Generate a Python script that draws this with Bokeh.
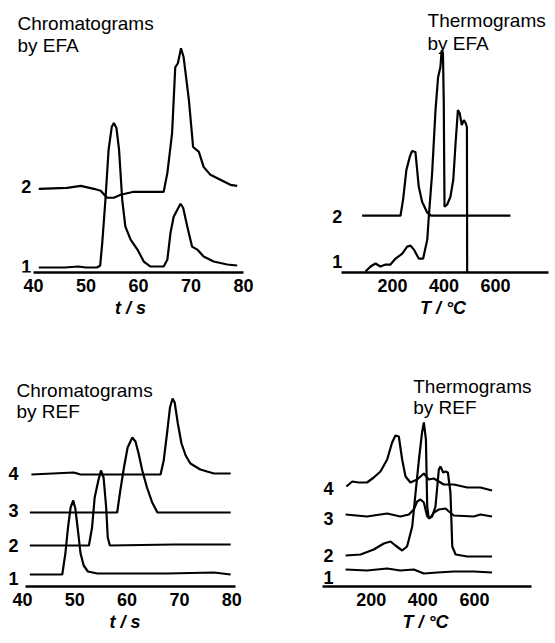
from bokeh.plotting import figure
from bokeh.layouts import column, row
from bokeh.models import FixedTicker, Label
from bokeh.embed import file_html
from bokeh.resources import INLINE

# ---------------- data ----------------
# Chromatograms by EFA  (t / s, intensity a.u.)
chrom_efa_1_t = [41.0, 46.0, 48.5, 50.0, 52.1, 52.7, 53.1, 53.7, 54.3, 54.9, 55.3, 55.8, 56.3, 56.9, 57.5,
                 58.5, 59.8, 61.0, 62.3, 64.8, 65.5, 66.1, 66.7, 67.4, 68.0, 68.5, 69.3, 70.2, 71.2, 72.4,
                 74.3, 76.9, 78.8]
chrom_efa_1_y = [5, 5, 6, 5, 5, 7, 30, 73, 123, 146, 150, 145, 123, 73, 46,
                 33, 23, 11, 6, 6, 13, 40, 56, 63, 69, 65, 46, 26, 23, 16,
                 11, 8, 7]
chrom_efa_2_t = [41.0, 46.4, 49.0, 51.5, 52.8, 54.0, 55.3, 56.6, 59.1, 64.8, 65.5, 66.4, 67.0, 67.5,
                 68.1, 68.6, 69.6, 70.4, 71.5, 72.4, 73.7, 75.6, 77.5, 78.8]
chrom_efa_2_y = [84, 85, 87, 84, 82, 75, 75, 78, 81, 81, 100, 140, 206, 210,
                 225, 216, 173, 126, 121, 106, 98, 93, 88, 87]

# Thermograms by EFA  (T / degC)
thermo_efa_1_T = [95, 115, 134, 153, 173, 192, 212, 238, 257, 270, 283, 302, 319, 335, 341, 354, 367,
                  377, 386, 391, 396, 399, 402, 412, 425, 436, 445, 454, 461, 469, 477, 484, 489, 490]
thermo_efa_1_y = [1, 6, 9, 6, 8, 8, 14, 19, 26, 27, 23, 14, 14, 33, 56, 100, 163,
                  196, 206, 223, 220, 173, 66, 68, 76, 93, 130, 163, 160, 148, 153, 150, 146, 0]
thermo_efa_2_T = [82, 231, 241, 254, 267, 276, 289, 302, 315, 335, 350, 658]
thermo_efa_2_y = [57, 57, 73, 103, 116, 122, 121, 86, 71, 60, 57, 57]

# Chromatograms by REF
chrom_ref_1_t = [41.4, 47.6, 48.2, 48.7, 49.2, 49.7, 50.1, 50.6, 51.1, 51.7, 52.5, 54.3, 67.7, 76.6, 79.8]
chrom_ref_1_y = [12, 12, 33, 59, 79, 86, 78, 56, 33, 21, 15, 13, 13, 14, 12]
chrom_ref_2_t = [41.4, 52.7, 53.3, 53.8, 54.5, 55.0, 55.5, 56.0, 56.3, 56.7, 68.9, 79.8]
chrom_ref_2_y = [41, 41, 59, 89, 106, 116, 109, 79, 49, 41, 42, 42]
chrom_ref_3_t = [41.4, 58.1, 58.7, 59.4, 60.1, 61.0, 61.6, 62.2, 62.9, 63.8, 64.8, 65.8, 79.8]
chrom_ref_3_y = [74, 74, 96, 119, 139, 149, 145, 133, 116, 99, 84, 74, 74]
chrom_ref_4_t = [41.7, 49.8, 51.1, 66.4, 67.0, 67.7, 68.2, 68.7, 69.1, 69.7, 70.4, 71.2, 72.1, 74.0, 76.6, 79.8]
chrom_ref_4_y = [112, 114, 112, 112, 126, 156, 179, 188, 184, 163, 143, 131, 123, 117, 113, 113]

# Thermograms by REF
thermo_ref_1_T = [101, 184, 262, 313, 365, 404, 456, 520, 597, 668]
thermo_ref_1_y = [17, 16, 18, 16, 17, 13, 14, 15, 15, 14]
thermo_ref_2_T = [101, 159, 210, 249, 275, 294, 320, 339, 359, 372, 385, 397, 404, 412, 417, 423, 436,
                  449, 462, 468, 479, 488, 497, 507, 514, 527, 572, 668]
thermo_ref_2_y = [31, 32, 37, 43, 45, 41, 36, 40, 60, 94, 127, 154, 164, 147, 80, 68, 70,
                  80, 117, 120, 114, 115, 114, 94, 40, 32, 30, 30]
thermo_ref_3_T = [101, 184, 262, 313, 346, 365, 378, 391, 404, 417, 430, 443, 462, 488, 501, 520, 597, 623, 668]
thermo_ref_3_y = [72, 70, 73, 70, 72, 77, 85, 87, 84, 70, 69, 74, 77, 78, 75, 71, 70, 72, 70]
thermo_ref_4_T = [104, 127, 152, 184, 210, 236, 262, 281, 294, 307, 320, 333, 352, 378, 404, 423, 443,
                  481, 520, 572, 623, 668]
thermo_ref_4_y = [100, 105, 104, 104, 109, 115, 127, 144, 151, 150, 127, 110, 104, 107, 113, 107, 108,
                  102, 102, 99, 99, 96]

chrom_ticks = [40, 50, 60, 70, 80]
thermo_ticks = [200, 400, 600]
chrom_label = "t / s"
thermo_label = "T / \u00b0C"
titles = [("Chromatograms", "by EFA"), ("Thermograms", "by EFA"),
          ("Chromatograms", "by REF"), ("Thermograms", "by REF")]

FONT = "Liberation Sans"


def panel(width, height, frame_h, left, right, x_range, bounds, ticks, xlabel):
    p = figure(width=width, height=height, x_range=x_range, y_range=(0, frame_h),
               output_backend="svg", toolbar_location=None, y_axis_location=None,
               min_border_left=left, min_border_right=right, min_border_top=0,
               min_border_bottom=height - frame_h)
    p.outline_line_color = None
    p.grid.visible = False
    ax = p.xaxis[0]
    ax.bounds = bounds
    ax.ticker = FixedTicker(ticks=ticks)
    ax.axis_line_width = 2.5
    ax.axis_line_color = "black"
    ax.major_tick_line_color = None
    ax.minor_tick_line_color = None
    ax.major_tick_out = 0
    ax.major_tick_in = 0
    ax.minor_tick_out = 0
    ax.minor_tick_in = 0
    ax.major_label_text_font = FONT
    ax.major_label_text_font_size = "18px"
    ax.major_label_text_font_style = "bold"
    ax.major_label_text_color = "black"
    ax.major_label_standoff = 6
    ax.axis_label = xlabel
    ax.axis_label_text_font = FONT
    ax.axis_label_text_font_size = "18px"
    ax.axis_label_text_font_style = "bold italic"
    ax.axis_label_text_color = "black"
    ax.axis_label_standoff = 3
    return p


def add_title(p, lines, x, y1, y2):
    for txt, yy in zip(lines, (y1, y2)):
        p.add_layout(Label(x=x, y=yy, text=txt, text_font=FONT, text_font_size="19px",
                           text_align="left", text_baseline="alphabetic", text_color="black"))


def add_series_labels(p, names, x, ys):
    for n, yy in zip(names, ys):
        p.add_layout(Label(x=x, y=yy, text=n, text_font=FONT, text_font_size="18px",
                           text_font_style="bold", text_align="center",
                           text_baseline="alphabetic", text_color="black"))


LW = 2.2

# top-left   (pixel map: t=40 -> 33 px, 5.25 px per s; frame 17..243)
p1 = panel(280, 320, 273, 17, 37, (40 - 16 / 5.25, 80), (40, 80), chrom_ticks, chrom_label)
p1.line(chrom_efa_1_t, chrom_efa_1_y, line_color="black", line_width=LW)
p1.line(chrom_efa_2_t, chrom_efa_2_y, line_color="black", line_width=LW)
add_title(p1, titles[0], 36.95, 250, 228)
add_series_labels(p1, ["1", "2"], 38.6, [6, 86])

# top-right  (T=0 -> 60.5 px, 0.2575 px per degC; frame 50..275)
p2 = panel(275, 320, 273, 50, 0, (-10.5 / 0.2575, (275 - 60.5) / 0.2575), (0, 805), thermo_ticks, thermo_label)
p2.line(thermo_efa_1_T, thermo_efa_1_y, line_color="black", line_width=LW)
p2.line(thermo_efa_2_T, thermo_efa_2_y, line_color="black", line_width=LW)
add_title(p2, titles[1], 336, 253, 230)
add_series_labels(p2, ["1", "2"], -15, [11, 56])

# bottom-left (t=40 -> 22 px, 5.23 px per s; frame 7..242)
p3 = panel(280, 323, 266, 7, 38, (40 - 15 / 5.23, 40 + 220 / 5.23), (40.6, 80.8), chrom_ticks, chrom_label)
for tt, yy in [(chrom_ref_1_t, chrom_ref_1_y), (chrom_ref_2_t, chrom_ref_2_y),
               (chrom_ref_3_t, chrom_ref_3_y), (chrom_ref_4_t, chrom_ref_4_y)]:
    p3.line(tt, yy, line_color="black", line_width=LW)
add_title(p3, titles[2], 38.85, 196, 175)
add_series_labels(p3, ["1", "2", "3", "4"], 38.3, [8, 41, 76, 113])

# bottom-right (T=0 -> 39 px, 0.2583 px per degC; frame 38..252)
p4 = panel(275, 323, 266, 38, 23, (-1 / 0.2583, 213 / 0.2583), (10, 820), thermo_ticks, thermo_label)
for tt, yy in [(thermo_ref_1_T, thermo_ref_1_y), (thermo_ref_2_T, thermo_ref_2_y),
               (thermo_ref_3_T, thermo_ref_3_y), (thermo_ref_4_T, thermo_ref_4_y)]:
    p4.line(tt, yy, line_color="black", line_width=LW)
add_title(p4, titles[3], 363, 200, 179)
add_series_labels(p4, ["1", "2", "3", "4"], 35, [9, 31, 68, 98])

layout = column(row(p1, p2), row(p3, p4))
open("out.html", "w").write(file_html(layout, INLINE))
